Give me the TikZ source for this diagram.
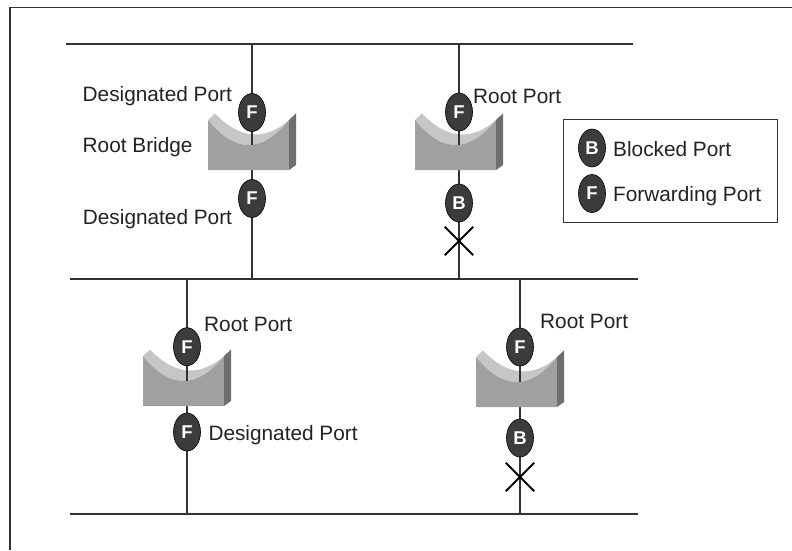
\documentclass[tikz,border=0pt]{standalone}
\usepackage{fontspec}
\setmainfont{Liberation Sans}
\usetikzlibrary{shapes.geometric}
\definecolor{linec}{HTML}{333333}
\definecolor{ovalc}{HTML}{3C3C3C}
\definecolor{faceA}{HTML}{A0A0A0}
\definecolor{faceB}{HTML}{C6C6C6}
\definecolor{faceC}{HTML}{6E6E6E}
\definecolor{txtc}{HTML}{222222}
\tikzset{
  bus/.style={draw=linec, line width=1.8pt},
  wire/.style={draw=linec, line width=1.4pt},
  frameline/.style={draw=linec, line width=1.3pt},
  port/.style={ellipse, fill=ovalc, draw=black, line width=0.6pt, minimum width=27pt, minimum height=38pt, inner sep=0pt, text=white, font=\fontsize{18.5}{18.5}\selectfont\bfseries},
  lbl/.style={anchor=base west, inner sep=0pt, text=txtc, font=\fontsize{20.8}{24}\selectfont},
  crossmark/.style={line width=2pt, draw=black},
  xbox/.style={minimum size=28pt, inner sep=0pt},
  bridge/.pic={
    \fill[faceB] (-44,-50) -- (-37,-56.5) .. controls (-10,-28.5) and (17,-28.5) .. (44,-56.5) -- (37,-50) .. controls (10,-16.7) and (-17,-16.7) .. (-44,-50) -- cycle;
    \fill[faceA] (-44,0) -- (-44,-50) .. controls (-17,-16.7) and (10,-16.7) .. (37,-50) -- (37,0) -- cycle;
    \fill[faceC] (37,-50) -- (44,-56.5) -- (44,-5) -- (37,0) -- cycle;
    \coordinate (-dip) at (0,-25.2);
    \coordinate (-base) at (0,0);
  }
}
\begin{document}
\begin{tikzpicture}[x=1pt,y=-1pt]
\useasboundingbox (0,0) rectangle (792,550);
% frame
\coordinate (fTL) at (10,7.5);
\coordinate (fTR) at (792,7.5);
\coordinate (fBL) at (10,550);
\draw[frameline] (fBL) -- (fTL) -- (fTR);
% buses
\coordinate (b1L) at (66,44);  \coordinate (b1R) at (633,44);
\coordinate (b2L) at (70,279); \coordinate (b2R) at (638,279);
\coordinate (b3L) at (70,514); \coordinate (b3R) at (638,514);
\draw[bus] (b1L) -- (b1R);
\draw[bus] (b2L) -- (b2R);
\draw[bus] (b3L) -- (b3R);
% taps
\coordinate (t1) at (252,44);  \coordinate (m1) at (252,279);
\coordinate (t2) at (459,44);  \coordinate (m2) at (459,279);
\coordinate (m3) at (187,279); \coordinate (u3) at (187,514);
\coordinate (m4) at (520,279); \coordinate (u4) at (520,514);
\draw[wire] (t1) -- (m1);
\draw[wire] (t2) -- (m2);
\draw[wire] (m3) -- (u3);
\draw[wire] (m4) -- (u4);
% bridges
\pic (br1) at (252,170) {bridge};
\pic (br2) at (459,170) {bridge};
\pic (br3) at (187,406) {bridge};
\pic (br4) at (520,407) {bridge};
% ports
\node[port] (p1a) at (252,112.5) {F};
\node[port] (p1b) at (252,198.5) {F};
\node[port] (p2a) at (459,112) {F};
\node[port] (p2b) at (459,203) {B};
\node[port] (p3a) at (187,346.7) {F};
\node[port] (p3b) at (187,432) {F};
\node[port] (p4a) at (520,347) {F};
\node[port] (p4b) at (520,438) {B};
% wire segments over the curved tops
\draw[wire] (p1a.south) -- (br1-dip);
\draw[wire] (p2a.south) -- (br2-dip);
\draw[wire] (p3a.south) -- (br3-dip);
\draw[wire] (p4a.south) -- (br4-dip);
% blocked marks
\node[xbox] (x2) at (459,241) {};
\node[xbox] (x4) at (520,477) {};
\draw[crossmark] (x2.north west) -- (x2.south east) (x2.north east) -- (x2.south west);
\draw[crossmark] (x4.north west) -- (x4.south east) (x4.north east) -- (x4.south west);
% labels
\node[lbl] (l1) at (82.5,101.7) {Designated Port};
\node[lbl] (l2) at (82.5,152) {Root Bridge};
\node[lbl] (l3) at (82.7,224) {Designated Port};
\node[lbl] (l4) at (473,103.5) {Root Port};
\node[lbl] (l5) at (204,331.7) {Root Port};
\node[lbl] (l6) at (208.3,440.7) {Designated Port};
\node[lbl] (l7) at (540,328.3) {Root Port};
% legend
\coordinate (lgA) at (563.3,119.3);
\coordinate (lgB) at (777.3,222.7);
\draw[frameline] (lgA) rectangle (lgB);
\node[port] (lgb) at (592,148) {B};
\node[port] (lgf) at (592,193.5) {F};
\node[lbl] (lgbt) at (613,156) {Blocked Port};
\node[lbl] (lgft) at (613,201.7) {Forwarding Port};
\end{tikzpicture}
\end{document}
